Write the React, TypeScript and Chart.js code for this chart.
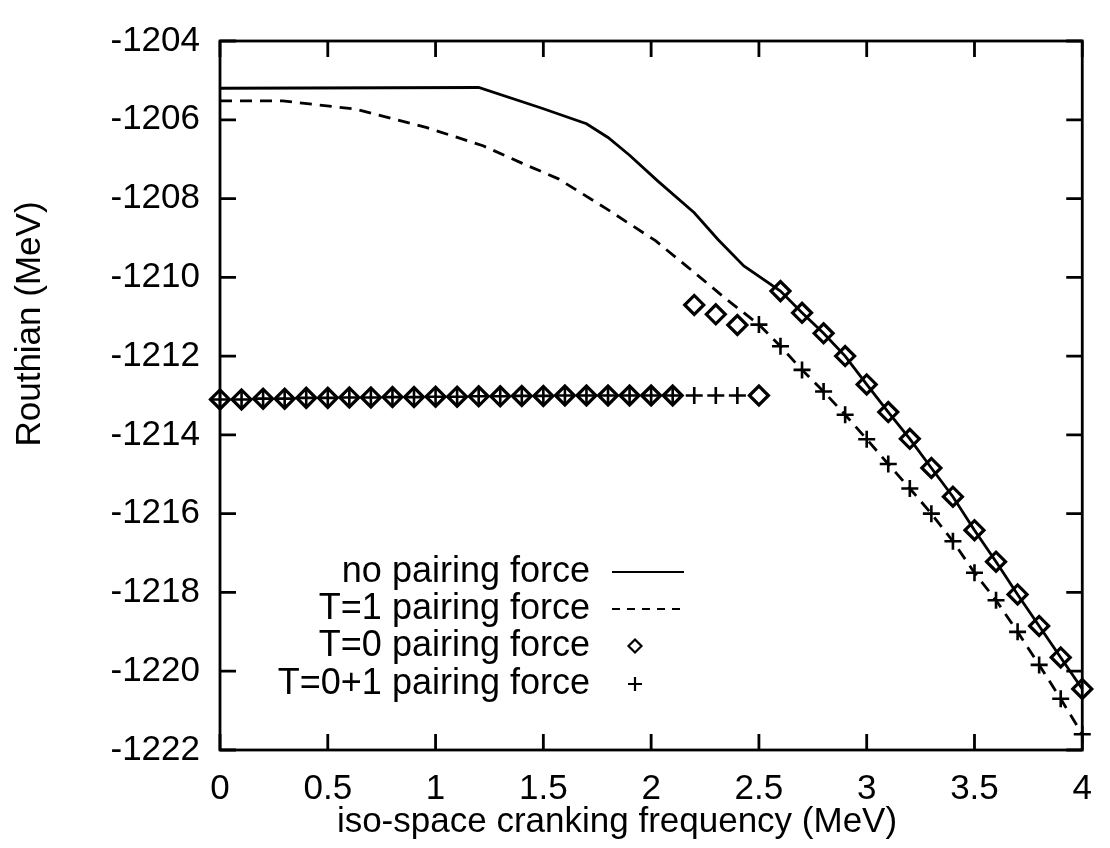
import React, { useEffect, useRef } from "react";
import { Chart, registerables } from "chart.js";

Chart.register(...registerables);

// ---- data ----
const noPairX = [0, 1.2, 1.49, 1.7, 1.8, 1.9, 2.03, 2.2, 2.31, 2.43, 2.6, 2.7, 2.8, 2.9, 3.0, 3.1, 3.2, 3.3, 3.4, 3.5, 3.6, 3.7, 3.8, 3.9, 4.0];
const noPairY = [-1205.2, -1205.18, -1205.7, -1206.1, -1206.45, -1206.9, -1207.55, -1208.36, -1209.04, -1209.71, -1210.35, -1210.9, -1211.42, -1212.0, -1212.72, -1213.42, -1214.1, -1214.84, -1215.57, -1216.42, -1217.22, -1218.05, -1218.85, -1219.65, -1220.45];

const t1X = [0, 0.29, 0.63, 0.96, 1.22, 1.4, 1.57, 1.79, 2.02, 2.17, 2.35, 2.5, 2.6, 2.7, 2.8, 2.9, 3.0, 3.1, 3.2, 3.3, 3.4, 3.5, 3.6, 3.7, 3.8, 3.9, 4.0];
const t1Y = [-1205.52, -1205.52, -1205.73, -1206.2, -1206.66, -1207.1, -1207.5, -1208.25, -1209.07, -1209.74, -1210.56, -1211.2, -1211.75, -1212.35, -1212.9, -1213.49, -1214.11, -1214.74, -1215.36, -1216.0, -1216.7, -1217.5, -1218.2, -1219.0, -1219.84, -1220.7, -1221.6];

// T=0 pairing force (diamonds)
const t0X = [0, 0.1, 0.2, 0.3, 0.4, 0.5, 0.6, 0.7, 0.8, 0.9, 1.0, 1.1, 1.2, 1.3, 1.4, 1.5, 1.6, 1.7, 1.8, 1.9, 2.0, 2.1, 2.5, 2.2, 2.3, 2.4, 2.6, 2.7, 2.8, 2.9, 3.0, 3.1, 3.2, 3.3, 3.4, 3.5, 3.6, 3.7, 3.8, 3.9, 4.0];
const t0Y = [-1213.1, -1213.1, -1213.08, -1213.08, -1213.06, -1213.06, -1213.05, -1213.05, -1213.04, -1213.04, -1213.03, -1213.03, -1213.02, -1213.02, -1213.01, -1213.01, -1213.0, -1213.0, -1213.0, -1213.0, -1213.0, -1213.0, -1213.0, -1210.7, -1210.94, -1211.21, -1210.35, -1210.9, -1211.42, -1212.0, -1212.72, -1213.42, -1214.1, -1214.84, -1215.57, -1216.42, -1217.22, -1218.05, -1218.85, -1219.65, -1220.45];

// T=0+1 pairing force (plus)
const t01X = [0, 0.1, 0.2, 0.3, 0.4, 0.5, 0.6, 0.7, 0.8, 0.9, 1.0, 1.1, 1.2, 1.3, 1.4, 1.5, 1.6, 1.7, 1.8, 1.9, 2.0, 2.1, 2.2, 2.3, 2.4, 2.5, 2.6, 2.7, 2.8, 2.9, 3.0, 3.1, 3.2, 3.3, 3.4, 3.5, 3.6, 3.7, 3.8, 3.9, 4.0];
const t01Y = [-1213.1, -1213.1, -1213.08, -1213.08, -1213.06, -1213.06, -1213.05, -1213.05, -1213.04, -1213.04, -1213.03, -1213.03, -1213.02, -1213.02, -1213.01, -1213.01, -1213.0, -1213.0, -1213.0, -1213.0, -1213.0, -1213.0, -1213.0, -1213.0, -1213.0, -1211.2, -1211.75, -1212.35, -1212.9, -1213.49, -1214.11, -1214.74, -1215.36, -1216.0, -1216.7, -1217.5, -1218.2, -1219.0, -1219.84, -1220.7, -1221.6];

const xTicks = [0, 0.5, 1, 1.5, 2, 2.5, 3, 3.5, 4];
const yTicks = [-1222, -1220, -1218, -1216, -1214, -1212, -1210, -1208, -1206, -1204];

const legendLabels = ["no pairing force", "T=1 pairing force", "T=0 pairing force", "T=0+1 pairing force"];
const xTitle = "iso-space cranking frequency (MeV)";
const yTitle = "Routhian (MeV)";

const FONT = '"Liberation Sans", Arial, Helvetica, sans-serif';

const zip = (xs: number[], ys: number[]) => xs.map((x, i) => ({ x, y: ys[i] }));

const framePlugin = {
  id: "framePlugin",
  afterDatasetsDraw(chart: any) {
    const { ctx, chartArea } = chart;
    const { left, right, top, bottom } = chartArea;
    const xs = chart.scales.x;
    const ys = chart.scales.y;
    ctx.save();
    ctx.strokeStyle = "#000";
    ctx.lineWidth = 2.8;
    ctx.strokeRect(left, top, right - left, bottom - top);
    const tl = 16;
    ctx.beginPath();
    xTicks.forEach((v) => {
      const px = xs.getPixelForValue(v);
      ctx.moveTo(px, bottom);
      ctx.lineTo(px, bottom - tl);
      ctx.moveTo(px, top);
      ctx.lineTo(px, top + tl);
    });
    yTicks.forEach((v) => {
      const py = ys.getPixelForValue(v);
      ctx.moveTo(left, py);
      ctx.lineTo(left + tl, py);
      ctx.moveTo(right, py);
      ctx.lineTo(right - tl, py);
    });
    ctx.stroke();

    // axis titles
    ctx.fillStyle = "#000";
    ctx.font = `35px ${FONT}`;
    ctx.textAlign = "center";
    ctx.textBaseline = "middle";
    ctx.fillText(xTitle, 617, 822);
    ctx.save();
    ctx.translate(30, 324);
    ctx.rotate(-Math.PI / 2);
    ctx.fillText(yTitle, 0, 0);
    ctx.restore();

    // legend
    const rows = [572, 609, 646, 684];
    const textRight = 590;
    ctx.font = `36px ${FONT}`;
    ctx.textAlign = "right";
    ctx.textBaseline = "middle";
    legendLabels.forEach((lab, i) => {
      ctx.fillText(lab, textRight, rows[i]);
    });
    // samples
    ctx.lineWidth = 2;
    ctx.beginPath();
    ctx.setLineDash([]);
    ctx.moveTo(612, rows[0]);
    ctx.lineTo(684, rows[0]);
    ctx.stroke();
    ctx.beginPath();
    ctx.setLineDash([8, 7]);
    ctx.moveTo(612, rows[1]);
    ctx.lineTo(684, rows[1]);
    ctx.stroke();
    ctx.setLineDash([]);
    // diamond
    const dx = 635, r = 6.5;
    ctx.lineWidth = 2.2;
    ctx.beginPath();
    ctx.moveTo(dx, rows[2] - r);
    ctx.lineTo(dx + r, rows[2]);
    ctx.lineTo(dx, rows[2] + r);
    ctx.lineTo(dx - r, rows[2]);
    ctx.closePath();
    ctx.stroke();
    // plus
    ctx.beginPath();
    ctx.moveTo(dx - 7, rows[3]);
    ctx.lineTo(dx + 7, rows[3]);
    ctx.moveTo(dx, rows[3] - 7);
    ctx.lineTo(dx, rows[3] + 7);
    ctx.stroke();
    ctx.restore();
  },
};

export default function App() {
  const ref = useRef<HTMLCanvasElement | null>(null);
  useEffect(() => {
    if (!ref.current) return;
    const chart = new Chart(ref.current, {
      type: "scatter",
      data: {
        datasets: [
          {
            label: legendLabels[0],
            data: zip(noPairX, noPairY),
            showLine: true,
            borderColor: "#000",
            borderWidth: 2.8,
            pointRadius: 0,
            clip: false as any,
          },
          {
            label: legendLabels[1],
            data: zip(t1X, t1Y),
            showLine: true,
            borderColor: "#000",
            borderWidth: 2.8,
            borderDash: [12, 8],
            pointRadius: 0,
            clip: false as any,
          },
          {
            label: legendLabels[2],
            data: zip(t0X, t0Y),
            showLine: false,
            pointStyle: "rectRot",
            pointRadius: 9.5,
            pointBorderWidth: 3.2,
            pointBorderColor: "#000",
            pointBackgroundColor: "rgba(0,0,0,0)",
            clip: false as any,
          },
          {
            label: legendLabels[3],
            data: zip(t01X, t01Y),
            showLine: false,
            pointStyle: "cross",
            pointRadius: 8.5,
            pointBorderWidth: 2.6,
            pointBorderColor: "#000",
            clip: false as any,
          },
        ],
      },
      options: {
        animation: false,
        responsive: false,
        maintainAspectRatio: false,
        layout: { padding: { top: 36, right: 7, left: 0, bottom: 0 } },
        plugins: { legend: { display: false }, tooltip: { enabled: false } },
        scales: {
          x: {
            type: "linear",
            min: 0,
            max: 4,
            afterBuildTicks: (s: any) => {
              s.ticks = xTicks.map((v) => ({ value: v }));
            },
            afterFit: (s: any) => {
              s.height = 98;
            },
            grid: { display: false, drawTicks: false },
            border: { display: false },
            ticks: {
              color: "#000",
              padding: 18,
              maxRotation: 0,
              autoSkip: false,
              font: { family: FONT, size: 35 },
              callback: (v: any) => String(v),
            },
          },
          y: {
            type: "linear",
            min: -1222,
            max: -1204,
            afterBuildTicks: (s: any) => {
              s.ticks = yTicks.map((v) => ({ value: v }));
            },
            afterFit: (s: any) => {
              s.width = 220;
            },
            grid: { display: false, drawTicks: false },
            border: { display: false },
            ticks: {
              color: "#000",
              padding: 20,
              autoSkip: false,
              font: { family: FONT, size: 35 },
              callback: (v: any) => String(v),
            },
          },
        },
      },
      plugins: [framePlugin],
    });
    return () => chart.destroy();
  }, []);
  return (
    <div style={{ position: "absolute", left: 0, top: 0, width: 1110, height: 848, background: "#fff" }}>
      <canvas ref={ref} width={1110} height={848} style={{ display: "block" }} />
    </div>
  );
}
